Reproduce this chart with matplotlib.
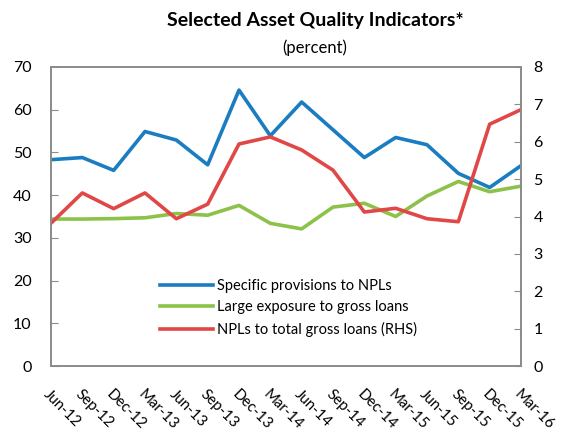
import matplotlib.pyplot as plt

plt.rcParams['font.family'] = ['Lato', 'DejaVu Sans']

# quarters
quarters = ['Jun-12', 'Sep-12', 'Dec-12', 'Mar-13', 'Jun-13', 'Sep-13', 'Dec-13', 'Mar-14',
            'Jun-14', 'Sep-14', 'Dec-14', 'Mar-15', 'Jun-15', 'Sep-15', 'Dec-15', 'Mar-16']

# left axis series
provisions = [48.3, 48.8, 45.8, 54.9, 52.9, 47.1, 64.6, 53.9,
              61.8, 55.3, 48.8, 53.5, 51.8, 45.1, 41.8, 46.9]
large_exposure = [34.4, 34.4, 34.5, 34.7, 35.7, 35.3, 37.6, 33.4,
                  32.1, 37.2, 38.1, 35.0, 39.8, 43.2, 40.8, 42.1]
# right axis series
npl_ratio = [3.82, 4.63, 4.21, 4.63, 3.94, 4.33, 5.94, 6.13,
             5.78, 5.24, 4.12, 4.22, 3.94, 3.86, 6.47, 6.86]

blue = '#1a7dc1'
green = '#8cc24a'
red = '#e04848'
grey = '#8c8c8c'

fig = plt.figure(figsize=(5.66, 4.37), dpi=100)
ax = fig.add_axes([51 / 566, 1 - 366 / 437, 470 / 566, 299 / 437])
ax2 = ax.twinx()

x = range(len(quarters))
l1, = ax.plot(x, provisions, color=blue, lw=2.6, label='Specific provisions to NPLs')
l2, = ax.plot(x, large_exposure, color=green, lw=2.6, label='Large exposure to gross loans')
l3, = ax2.plot(x, npl_ratio, color=red, lw=2.6, label='NPLs to total gross loans (RHS)')

ax.set_xlim(0, len(quarters) - 1)
ax.set_ylim(0, 70)
ax2.set_ylim(0, 8)
ax.set_yticks(range(0, 71, 10))
ax2.set_yticks(range(0, 9))

for a in (ax, ax2):
    for s in a.spines.values():
        s.set_color(grey)
        s.set_linewidth(1.3)
ax.tick_params(axis='y', direction='in', length=5, color=grey, pad=14, labelsize=11.5)
ax2.tick_params(axis='y', direction='in', length=5, color=grey, pad=9, labelsize=11.5)
ax.tick_params(axis='x', length=0, pad=15)
ax.set_xticks(list(x))
ax.set_xticklabels(quarters, rotation=-45, ha='left', va='top', rotation_mode='anchor', fontsize=10.8)

ax.legend(handles=[l1, l2, l3], loc='upper left', bbox_to_anchor=(0.205, 0.335), frameon=False,
          fontsize=10.5, handlelength=3.6, handletextpad=0.3, labelspacing=0.5)

fig.text(0.558, 0.952, 'Selected Asset Quality Indicators*', ha='center', va='center',
         fontsize=14, fontweight='bold')
fig.text(0.556, 0.89, '(percent)', ha='center', va='center', fontsize=12)

fig.savefig('out.png', dpi=100)
